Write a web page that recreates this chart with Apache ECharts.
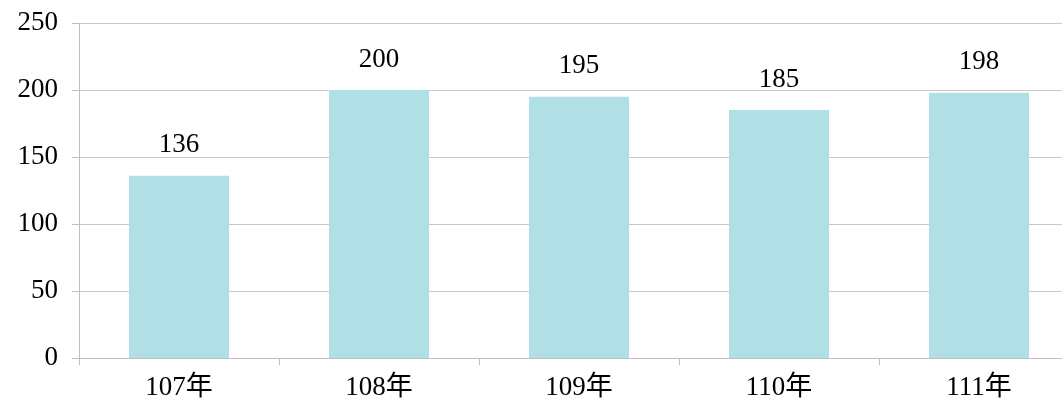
<!DOCTYPE html>
<html><head><meta charset="utf-8">
<script src="https://cdn.jsdelivr.net/npm/echarts@6/dist/echarts.min.js"></script>
<style>html,body{margin:0;padding:0;background:#fff;overflow:hidden;width:1062px;height:402px}#c{width:1080px;height:402px}</style>
</head><body><div id="c"></div>
<script>
const categories = ['107年','108年','109年','110年','111年'];
const values = [136, 200, 195, 185, 198];
const yTicks = [0, 50, 100, 150, 200, 250];
const font = '"Liberation Serif", "Noto Sans CJK TC", serif';
const chart = echarts.init(document.getElementById('c'));
chart.setOption({
  animation: false,
  grid: {left: 79, top: 23, right: 1, bottom: 44},
  xAxis: {
    type: 'category', data: categories,
    axisLine: {lineStyle: {color: '#bfbfbf', width: 1}},
    axisTick: {show: true, length: 7, lineStyle: {color: '#bfbfbf'}},
    axisLabel: {color: '#000', fontFamily: font, fontSize: 27, margin: 16}
  },
  yAxis: {
    type: 'value', min: yTicks[0], max: yTicks[yTicks.length-1], interval: 50,
    axisLine: {show: true, lineStyle: {color: '#bfbfbf', width: 1}},
    axisTick: {show: true, length: 7, lineStyle: {color: '#bfbfbf'}},
    splitLine: {lineStyle: {color: '#c8c8c8', width: 1}},
    axisLabel: {color: '#000', fontFamily: font, fontSize: 27, margin: 21}
  },
  series: [{
    type: 'bar', data: values, barWidth: 100,
    itemStyle: {color: '#b0dfe5'},
    label: {show: true, position: 'top', distance: 17, color: '#000', fontFamily: font, fontSize: 27}
  }]
});
</script></body></html>
